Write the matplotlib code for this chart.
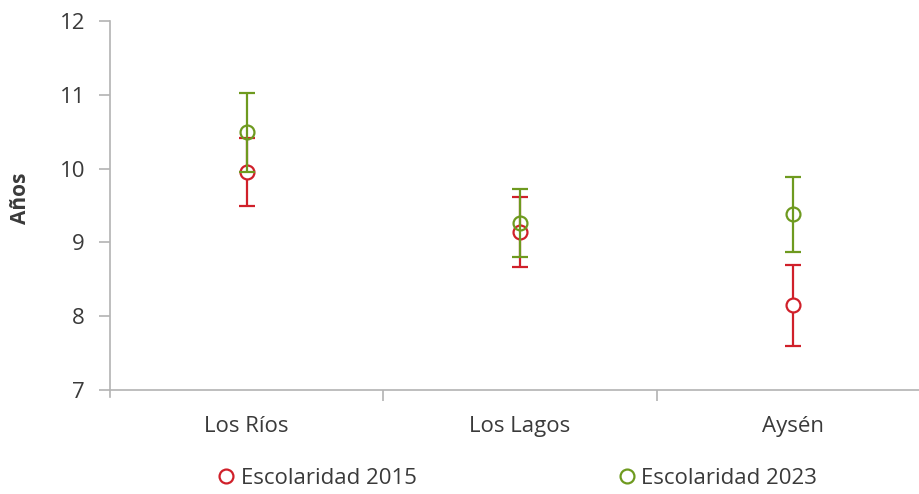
import numpy as np
import matplotlib.pyplot as plt
from matplotlib.lines import Line2D

plt.rcParams['font.family'] = ['Open Sans', 'DejaVu Sans']

regiones = ['Los Ríos', 'Los Lagos', 'Aysén']
esc_2015 = [9.95, 9.14, 8.15]
err_2015 = [0.46, 0.48, 0.55]
esc_2023 = [10.49, 9.26, 9.38]
err_2023 = [0.53, 0.46, 0.51]

rojo = '#d0202a'
verde = '#6e9a1f'
gris_txt = '#3a3a3a'
gris_eje = '#b3b3b3'

fig = plt.figure(figsize=(9.2, 4.94), dpi=100)
ax = fig.add_axes([110 / 920, 104 / 494, 820 / 920, 369 / 494])

x = np.arange(len(regiones))
ax.errorbar(x, esc_2015, yerr=err_2015, fmt='o', mfc='white', mec=rojo, ecolor=rojo,
            ms=10, mew=1.6, elinewidth=1.6, capsize=6, capthick=1.6, zorder=3)
ax.errorbar(x, esc_2023, yerr=err_2023, fmt='o', mfc='none', mec=verde, ecolor=verde,
            ms=10, mew=1.6, elinewidth=1.6, capsize=6, capthick=1.6, zorder=4)

ax.set_xlim(-0.5, 2.5)
ax.set_ylim(7, 12)
ax.set_yticks([7, 8, 9, 10, 11, 12])
ax.set_xticks(x)
ax.set_xticklabels(regiones)
ax.set_xticks([0.5, 1.5], minor=True)

for s in ['top', 'right']:
    ax.spines[s].set_visible(False)
for s in ['left', 'bottom']:
    ax.spines[s].set_color(gris_eje)
    ax.spines[s].set_linewidth(1.2)
ax.spines['left'].set_bounds(6.9, 12)
ax.tick_params(axis='y', colors=gris_eje, labelcolor=gris_txt, labelsize=16,
               length=8, width=1.2, pad=10)
ax.tick_params(axis='x', which='major', length=0, labelsize=16, labelcolor=gris_txt, pad=19)
ax.tick_params(axis='x', which='minor', length=8, width=1.2, color=gris_eje)

# etiqueta del eje y
fig.text(21 / 920, 1 - 198 / 494, 'Años', rotation=90, ha='center', va='center',
         fontsize=15, fontweight='bold', color=gris_txt)

handles = [Line2D([], [], marker='o', ls='none', mfc='none', mec=rojo, ms=10, mew=1.6),
           Line2D([], [], marker='o', ls='none', mfc='none', mec=verde, ms=10, mew=1.6)]
fig.legend(handles, ['Escolaridad 2015', 'Escolaridad 2023'], loc='center',
           bbox_to_anchor=(0.561, 0.032), ncol=2, frameon=False, fontsize=16,
           handlelength=1.0, handletextpad=0.15, columnspacing=8.95, labelcolor=gris_txt)

fig.savefig('out.png', dpi=100)
